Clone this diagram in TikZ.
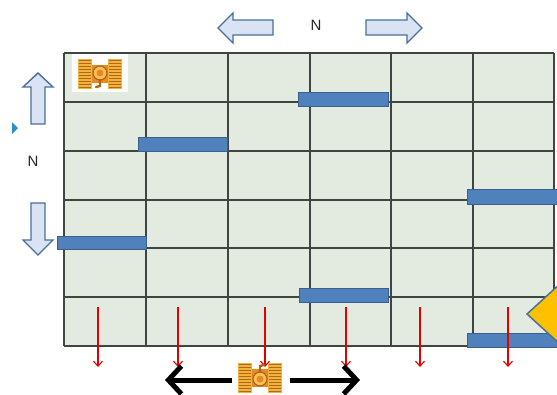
\documentclass[tikz,border=0pt]{standalone}
\usepackage{fontspec}
\setmainfont{Liberation Sans}
\usetikzlibrary{arrows.meta}
\definecolor{cellfill}{HTML}{E3EBE1}
\definecolor{gridline}{HTML}{3F4540}
\definecolor{wallfill}{HTML}{4F81BD}
\definecolor{walledge}{HTML}{3A5F8E}
\definecolor{arrowfill}{HTML}{DAE3F3}
\definecolor{arrowedge}{HTML}{4A6F98}
\definecolor{goalfill}{HTML}{FFC000}
\definecolor{markblue}{HTML}{2E8BC9}
\definecolor{treadgold}{HTML}{F2B33A}
\definecolor{treadstripe}{HTML}{B0651A}
\definecolor{hullorange}{HTML}{E88A1E}
\definecolor{turretlight}{HTML}{FBC05A}
\tikzset{
  gridrule/.style={draw=gridline, line width=1.2pt},
  wall/.style={fill=wallfill, draw=walledge, line width=1pt},
  blockarrow/.style={fill=arrowfill, draw=arrowedge, line width=1.4pt, line join=miter},
  drop/.style={draw=red!90!black, line width=1.1pt, -{Straight Barb[length=5pt,width=9pt]}},
  push/.style={draw=black, line width=5pt, -{Straight Barb[length=13pt,width=28pt,line width=5pt]}},
  label/.style={font=\fontsize{15}{15}\selectfont, text=black!85, inner sep=0pt},
  tank/.pic={
    % tracks on both sides, striped
    \foreach \sx in {-22,8} {
      \fill[treadgold] (\sx,-15) rectangle ++(14,30);
      \foreach \k in {0,...,9}
        \draw[treadstripe, line width=1pt] (\sx+1,-13.5+3*\k) -- ++(12,0);
    }
    % hull between the tracks
    \fill[hullorange] (-8,-9) rectangle (8,9);
    % turret and gun
    \fill[turretlight, draw=treadstripe, line width=1.2pt] (0,-1) circle (7);
    \fill[hullorange] (0,-1) circle (3.5);
    \draw[treadstripe, line width=2.4pt, line cap=round] (0,6) -- (0,12) -- (-4,13);
  }
}
\begin{document}
\begin{tikzpicture}[x=1pt, y=-1pt]
\useasboundingbox (0,0) rectangle (557,394);
\clip (0,0) rectangle (557,394);

% board
\fill[cellfill] (64,53) rectangle (554,346);
\foreach \gx in {64,146,228,310,391,473,554}
  \draw[gridrule] (\gx,53) -- (\gx,346);
\foreach \gy in {53,102,151,200,248,297,346}
  \draw[gridrule] (64,\gy) -- (554,\gy);

% walls
\draw[wall] (298,92) rectangle (388,106);
\draw[wall] (138,137) rectangle (227,151);
\draw[wall] (467,189) rectangle (562,204);
\draw[wall] (57,236) rectangle (146,249);
\draw[wall] (299,288) rectangle (388,302);
\draw[wall] (467,333) rectangle (562,347);

% goal marker at the right edge
\draw[fill=goalfill, draw=arrowedge, line width=1.5pt] (527,314) -- (562,282) -- (562,346) -- cycle;

% small pointer at the left
\fill[markblue] (12,122) -- (18,128) -- (12,134) -- cycle;

% tank at the start cell
\node[fill=white, minimum width=56pt, minimum height=38pt, inner sep=0pt] (start) at (100,73) {};
\pic (tankA) at (100,74) {tank};

% direction arrows with their labels
\draw[blockarrow] (218,28) -- (233,13) -- (233,20) -- (273,20) -- (273,35) -- (233,35) -- (233,43) -- cycle;
\draw[blockarrow] (422,28) -- (407,13) -- (407,20) -- (366,20) -- (366,35) -- (407,35) -- (407,43) -- cycle;
\node[label] (ntop) at (316,25) {N};
\draw[blockarrow] (38,73) -- (53,87) -- (45,87) -- (45,124) -- (31,124) -- (31,87) -- (23,87) -- cycle;
\draw[blockarrow] (38,255) -- (53,240) -- (45,240) -- (45,203) -- (31,203) -- (31,240) -- (23,240) -- cycle;
\node[label] (nleft) at (33,161) {N};

% falling arrows under the board
\foreach \i/\ax in {1/98,2/178,3/265,4/346,5/420,6/508} {
  \coordinate (d\i a) at (\ax,307);
  \coordinate (d\i b) at (\ax,367);
  \draw[drop] (d\i a) -- (d\i b);
}

% tank below the board, moving left or right
\pic[rotate=180] (tankB) at (260,378) {tank};
\coordinate (pl0) at (232,380);
\coordinate (pl1) at (165,380);
\coordinate (pr0) at (290,380);
\coordinate (pr1) at (360,380);
\draw[push] (pl0) -- (pl1);
\draw[push] (pr0) -- (pr1);
\end{tikzpicture}
\end{document}
